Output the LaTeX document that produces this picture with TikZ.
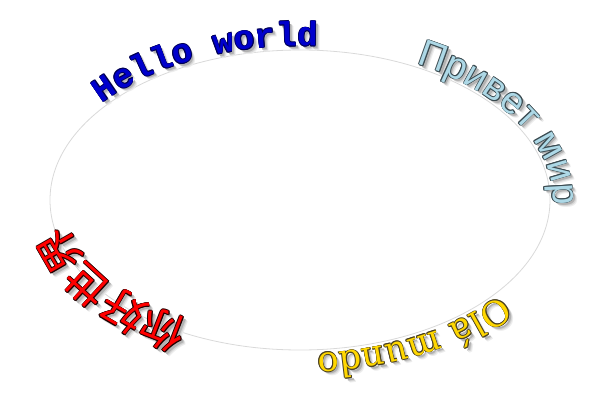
\documentclass[tikz,border=0pt]{standalone}
\usepackage{fontspec}
\usepackage{xcolor}
\usetikzlibrary{decorations.text}

\newfontfamily\hellofont{Liberation Mono}
\newfontfamily\privetfont{Liberation Sans}
\newfontfamily\olafont{DejaVu Serif}
\newfontfamily\nihaofont{Noto Sans CJK SC}

\definecolor{helloblue}{HTML}{0000CC}
\definecolor{helloedge}{HTML}{000055}
\definecolor{privetblue}{HTML}{ADD8E6}
\definecolor{privetedge}{HTML}{3A4A50}
\definecolor{olagold}{HTML}{FFD700}
\definecolor{olaedge}{HTML}{4A4020}
\definecolor{nihaored}{HTML}{FF0000}
\definecolor{nihaoedge}{HTML}{200000}

\tikzset{
  ringline/.style={draw=black!15, line width=0.8pt},
}

% #1 start angle, #2 raise, #3 font, #4 fill colour, #5 edge colour, #6 text
\newcommand{\ringword}[6]{%
  % shadow
  \foreach \sx/\sy/\sc in {4.5/-4.5/black!7, 3.5/-3.5/black!16, 2.5/-2.5/black!30}
    \path[decorate, decoration={text along path, raise=#2, text={|#3\color{\sc}|#6}}]
      (300+\sx,200+\sy) ++(#1:250pt and 150pt)
      arc[start angle=#1, delta angle=-170, x radius=250pt, y radius=150pt];
  % edge
  \foreach \ox/\oy in {0.7/0, -0.7/0, 0/0.7, 0/-0.7, 0.5/0.5, 0.5/-0.5, -0.5/0.5, -0.5/-0.5}
    \path[decorate, decoration={text along path, raise=#2, text={|#3\color{#5}|#6}}]
      (300+\ox,200+\oy) ++(#1:250pt and 150pt)
      arc[start angle=#1, delta angle=-170, x radius=250pt, y radius=150pt];
  % face
  \path[decorate, decoration={text along path, raise=#2, text={|#3\color{#4}|#6}}]
    (300,200) ++(#1:250pt and 150pt)
    arc[start angle=#1, delta angle=-170, x radius=250pt, y radius=150pt];
}

\begin{document}
\begin{tikzpicture}[x=1pt, y=1pt]
  \useasboundingbox (0,0) rectangle (600,400);

  \draw[ringline] (300,200) ellipse [x radius=250pt, y radius=150pt];

  \ringword{141.5}{4pt}{\hellofont\bfseries\fontsize{34}{34}\selectfont}{helloblue}{helloedge}{Hello world}
  \ringword{62.5}{3pt}{\privetfont\fontsize{38}{38}\selectfont}{privetblue}{privetedge}{Привет мир}
  \ringword{-37.5}{4pt}{\olafont\fontsize{35}{35}\selectfont}{olagold}{olaedge}{Olá mundo}
  \ringword{-117.5}{-12pt}{\nihaofont\fontsize{43}{43}\selectfont}{nihaored}{nihaoedge}{你好世界}

\end{tikzpicture}
\end{document}
